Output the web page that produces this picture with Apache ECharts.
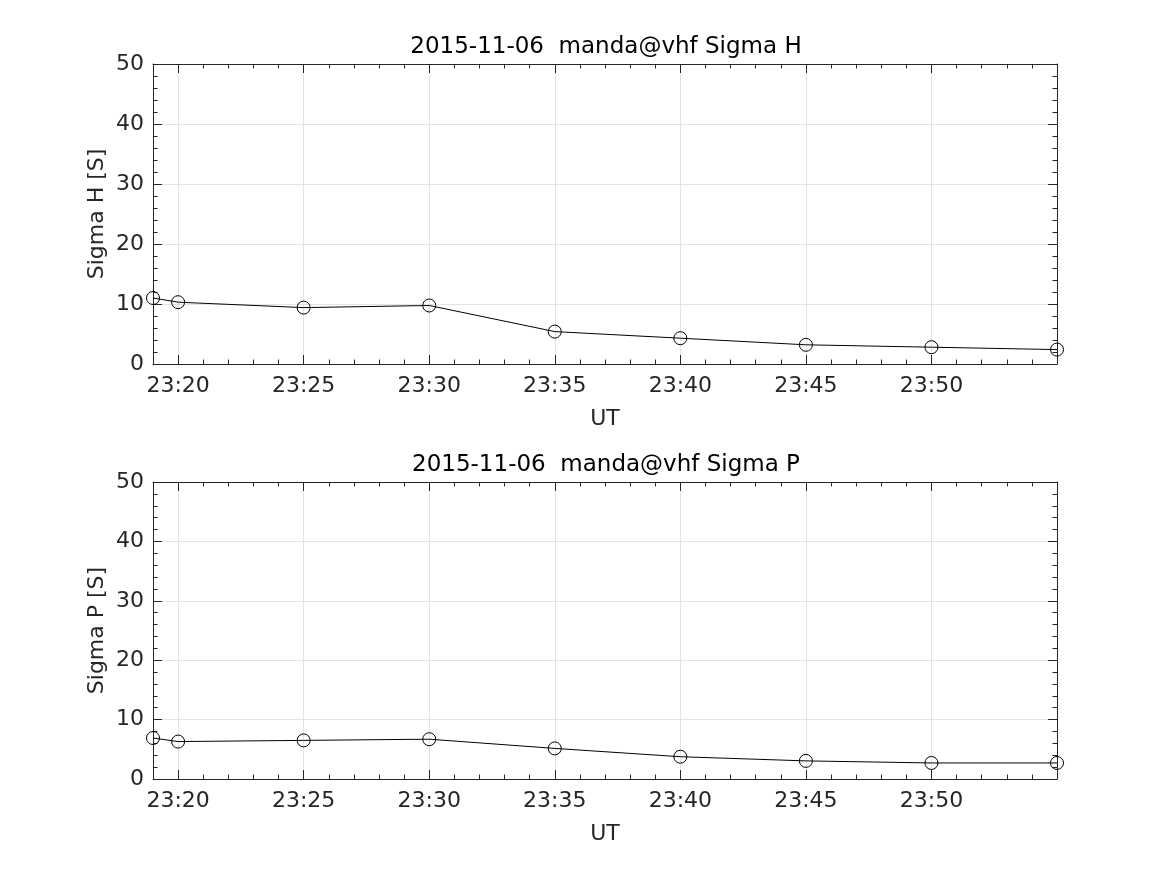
<!DOCTYPE html>
<html>
<head>
<meta charset="utf-8">
<script src="https://cdn.jsdelivr.net/npm/echarts@6/dist/echarts.min.js"></script>
<style>
html,body{margin:0;padding:0;background:#fff;}
#chart{width:1167px;height:875px;}
</style>
</head>
<body>
<div id="chart"></div>
<script>
// ---- data ----
const times = ['23:19','23:20','23:25','23:30','23:35','23:40','23:45','23:50','23:55'];
const sigmaH = [11.0, 10.3, 9.4, 9.75, 5.4, 4.3, 3.2, 2.8, 2.4];
const sigmaP = [6.9, 6.3, 6.5, 6.7, 5.15, 3.75, 3.05, 2.7, 2.7];
const xTickLabels = ['23:20','23:25','23:30','23:35','23:40','23:45','23:50'];
const yTickLabels = [0, 10, 20, 30, 40, 50];
const titles = ['2015-11-06  manda@vhf Sigma H', '2015-11-06  manda@vhf Sigma P'];
const yNames = ['Sigma H [S]', 'Sigma P [S]'];
const xName = 'UT';

// ---- helpers ----
function toMin(t){ const p = t.split(':'); return (+p[0])*60 + (+p[1]); }
function fmt(v){ const h = Math.floor(v/60), m = Math.round(v - h*60); return String(h).padStart(2,'0') + ':' + String(m).padStart(2,'0'); }
const xs = times.map(toMin);
const xMin = xs[0], xMax = xs[xs.length-1];
const xMajor = xTickLabels.map(toMin);

const FONT = 'DejaVu Sans';
const TXT = '#262626';
const GRIDC = '#e3e3e3';

const grids = [
  {left:153, top:64, width:904, height:300},
  {left:153, top:482, width:904, height:297}
];

const xAxis = [], yAxis = [], series = [], title = [];
[sigmaH, sigmaP].forEach((vals, g) => {
  title.push({
    text: titles[g], left: 601, top: grids[g].top - 33, textAlign: 'center',
    textStyle: {fontFamily: FONT, fontSize: 23, fontWeight: 'normal', color: '#000'}
  });
  // main bottom x axis
  xAxis.push({
    type: 'value', gridIndex: g, min: xMin, max: xMax, position: 'bottom',
    axisLine: {show: true, onZero: false, lineStyle: {color: TXT, width: 1}},
    axisTick: {show: true, inside: true, length: 9, customValues: xMajor, lineStyle: {color: TXT}},
    axisLabel: {show: true, customValues: xMajor, formatter: v => fmt(v), fontFamily: FONT, fontSize: 22, color: TXT, margin: 11},
    splitLine: {show: true, lineStyle: {color: GRIDC, width: 1}},
    name: xName, nameLocation: 'middle', nameGap: 44,
    nameTextStyle: {fontFamily: FONT, fontSize: 22, color: TXT}
  });
  // minor bottom
  xAxis.push({
    type: 'value', gridIndex: g, min: xMin, max: xMax, interval: 1, position: 'bottom',
    axisLine: {show: false, onZero: false},
    axisTick: {show: true, inside: true, length: 4.5, lineStyle: {color: TXT}},
    axisLabel: {show: false}, splitLine: {show: false}
  });
  // top major
  xAxis.push({
    type: 'value', gridIndex: g, min: xMin, max: xMax, position: 'top',
    axisLine: {show: true, onZero: false, lineStyle: {color: TXT, width: 1}},
    axisTick: {show: true, inside: true, length: 9, customValues: xMajor, lineStyle: {color: TXT}},
    axisLabel: {show: false, customValues: xMajor}, splitLine: {show: false}
  });
  // top minor
  xAxis.push({
    type: 'value', gridIndex: g, min: xMin, max: xMax, interval: 1, position: 'top',
    axisLine: {show: false, onZero: false},
    axisTick: {show: true, inside: true, length: 4.5, lineStyle: {color: TXT}},
    axisLabel: {show: false}, splitLine: {show: false}
  });
  // left y
  yAxis.push({
    type: 'value', gridIndex: g, min: yTickLabels[0], max: yTickLabels[yTickLabels.length-1], interval: 10, position: 'left',
    axisLine: {show: true, onZero: false, lineStyle: {color: TXT, width: 1}},
    axisTick: {show: true, inside: true, length: 9, lineStyle: {color: TXT}},
    minorTick: {show: true, splitNumber: 5, length: 4.5, lineStyle: {color: TXT}},
    axisLabel: {fontFamily: FONT, fontSize: 22, color: TXT, margin: 9},
    splitLine: {show: true, lineStyle: {color: GRIDC, width: 1}},
    name: yNames[g], nameLocation: 'middle', nameGap: 45, nameMoveOverlap: false,
    nameTextStyle: {fontFamily: FONT, fontSize: 22, color: TXT}
  });
  // right y
  yAxis.push({
    type: 'value', gridIndex: g, min: yTickLabels[0], max: yTickLabels[yTickLabels.length-1], interval: 10, position: 'right',
    axisLine: {show: true, onZero: false, lineStyle: {color: TXT, width: 1}},
    axisTick: {show: true, inside: true, length: 9, lineStyle: {color: TXT}},
    minorTick: {show: true, splitNumber: 5, length: 4.5, lineStyle: {color: TXT}},
    axisLabel: {show: false}, splitLine: {show: false}
  });
  series.push({
    type: 'line', xAxisIndex: g*4, yAxisIndex: g*2,
    data: xs.map((x, i) => [x, vals[i]]),
    symbol: 'circle', symbolSize: 13, showSymbol: true, clip: false,
    lineStyle: {color: '#000', width: 1},
    itemStyle: {color: 'rgba(0,0,0,0)', borderColor: '#000', borderWidth: 1},
    emphasis: {disabled: true}, animation: false, z: 5
  });
});

const chart = echarts.init(document.getElementById('chart'), null, {renderer: 'canvas'});
chart.setOption({
  backgroundColor: '#fff',
  animation: false,
  title, grid: grids, xAxis, yAxis, series
});
</script>
</body>
</html>
